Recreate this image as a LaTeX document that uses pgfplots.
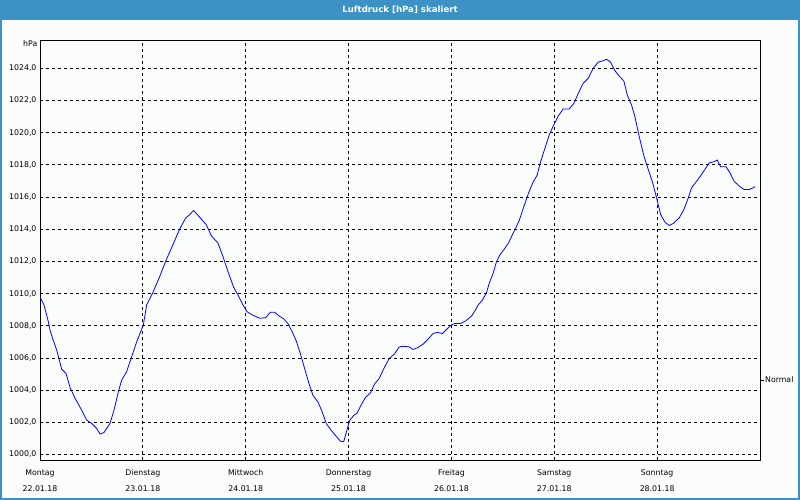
\documentclass[border=0pt]{standalone}
\usepackage{pgfplots}
\pgfplotsset{compat=1.18}
\usepackage{fontspec}
\setmainfont{DejaVu Sans}
\definecolor{titleblue}{RGB}{61,146,197}
\definecolor{bgcol}{RGB}{251,253,252}
\begin{document}
\begin{tikzpicture}[x=1pt,y=1pt]
\path[use as bounding box] (0,0) rectangle (800,500);
\fill[bgcol] (0,0) rectangle (800,500);
\fill[titleblue] (0,479.5) rectangle (800,500);
\node[white,font=\fontsize{8.6}{10}\selectfont\bfseries] at (400,490.5) {Luftdruck [hPa] skaliert};
\draw[titleblue,line width=2pt] (1,0) -- (1,480);
\draw[titleblue,line width=2pt] (799,0) -- (799,480);
\draw[titleblue,line width=2pt] (0,1) -- (800,1);
\begin{axis}[
  at={(40pt,40pt)}, anchor=south west,
  scale only axis, width=720pt, height=420pt,
  xmin=0, xmax=168, ymin=999.66, ymax=1025.76,
  xtick={0,24,48,72,96,120,144},
  xticklabels={Montag\\22.01.18, Dienstag\\23.01.18, Mittwoch\\24.01.18, Donnerstag\\25.01.18, Freitag\\26.01.18, Samstag\\27.01.18, Sonntag\\28.01.18},
  xticklabel style={align=center, font=\fontsize{7.8}{15.5}\selectfont, yshift=-6.5pt},
  ytick={1000,1002,...,1024},
  yticklabel style={font=\fontsize{7.8}{9}\selectfont},
  /pgf/number format/.cd, fixed, fixed zerofill, precision=1, use comma, 1000 sep={}, assume math mode=true,
  /pgfplots/.cd,
  major tick length=0pt,
  grid=major,
  major grid style={black, line width=0.8pt, dash pattern=on 3pt off 3pt},
  axis line style={black, line width=0.9pt},
  clip=true,
]
\addplot[blue, line width=0.8pt, mark=none] coordinates {
(0,1009.78) (0.93,1009.3) (1.94,1008.26) (2.33,1007.74) (2.96,1007.2) (3.89,1006.5) (4.51,1005.87) (5.06,1005.3) (6.07,1005.04) (7.0,1004.17)
(8.17,1003.5) (9.72,1002.76) (10.89,1002.14) (12.06,1001.93) (13.22,1001.62) (14.0,1001.27) (14.93,1001.37) (16.33,1001.93) (17.27,1002.76) (18.28,1003.9)
(19.06,1004.63) (20.22,1005.15) (21.39,1006.08) (22.56,1007.0) (23.33,1007.53) (24.11,1008.05) (24.89,1009.3) (26.44,1010.13) (27.84,1011.0) (29.46,1012.1)
(31.0,1013.03) (32.57,1014.0) (33.97,1014.69) (34.9,1014.9) (35.84,1015.17) (37.24,1014.75) (38.8,1014.28) (39.96,1013.6) (41.52,1013.14) (42.69,1012.31)
(43.86,1011.37) (45.18,1010.4) (46.19,1009.92) (47.36,1009.3) (48.29,1008.88) (49.54,1008.67) (51.25,1008.47) (52.65,1008.5) (53.74,1008.84) (54.75,1008.84)
(55.76,1008.61) (56.85,1008.44) (57.87,1008.13) (58.88,1007.61) (59.81,1007.05) (60.75,1006.27) (61.76,1005.33) (62.77,1004.4) (63.7,1003.67) (64.87,1003.26)
(65.88,1002.63) (66.82,1001.91) (67.98,1001.49) (69.15,1001.12) (70.09,1000.83) (70.86,1000.8) (71.49,1001.39) (72.26,1002.12) (73.2,1002.43) (73.98,1002.57)
(74.99,1003.11) (76.0,1003.57) (77.09,1003.82) (78.1,1004.4) (79.11,1004.71) (80.2,1005.33) (81.45,1005.95) (82.77,1006.27) (83.78,1006.68) (84.72,1006.73)
(86.12,1006.69) (87.05,1006.53) (88.22,1006.65) (89.39,1006.86) (90.55,1007.17) (91.72,1007.52) (92.66,1007.59) (93.9,1007.52) (94.84,1007.77) (96.0,1008.06)
(96.78,1008.14) (98.1,1008.14) (99.35,1008.31) (100.67,1008.6) (101.45,1008.91) (102.23,1009.29) (103.24,1009.6) (104.18,1010.05) (104.8,1010.63) (105.73,1011.26)
(106.51,1011.98) (107.29,1012.4) (108.07,1012.67) (109.24,1013.12) (110.4,1013.75) (111.8,1014.53) (112.74,1015.29) (113.9,1016.18) (115.07,1016.94) (116.0,1017.36)
(116.79,1018.19) (117.8,1019.02) (118.81,1019.85) (119.74,1020.41) (120.91,1021.03) (122.08,1021.47) (123.48,1021.47) (124.57,1021.82) (125.58,1022.44) (126.75,1023.07)
(127.92,1023.38) (129.08,1024.0) (130.25,1024.39) (131.26,1024.46) (132.2,1024.56) (133.13,1024.39) (134.14,1023.85) (135.15,1023.52) (136.24,1023.21) (137.02,1022.34)
(138.03,1021.72) (138.81,1020.99) (139.82,1019.75) (140.91,1018.55) (141.93,1017.72) (142.94,1016.89) (143.87,1015.95) (144.81,1014.92) (145.82,1014.44) (146.83,1014.23)
(147.76,1014.36) (149.16,1014.71) (150.25,1015.23) (151.27,1015.95) (152.04,1016.58) (153.21,1016.99) (154.38,1017.41) (155.39,1017.82) (156.17,1018.13) (157.26,1018.19)
(158.04,1018.3) (158.82,1017.88) (160.06,1017.88) (160.99,1017.51) (161.93,1016.99) (163.17,1016.68) (164.26,1016.47) (165.51,1016.47) (166.83,1016.64)
};
\end{axis}
\node[anchor=east,font=\fontsize{7.8}{9}\selectfont,inner sep=2.5pt] at (40,456) {hPa};
\draw[black,line width=0.8pt] (760,120) -- (764,120);
\node[anchor=west,font=\fontsize{7.8}{9}\selectfont,inner sep=1pt] at (764,120) {Normal};
\end{tikzpicture}
\end{document}
